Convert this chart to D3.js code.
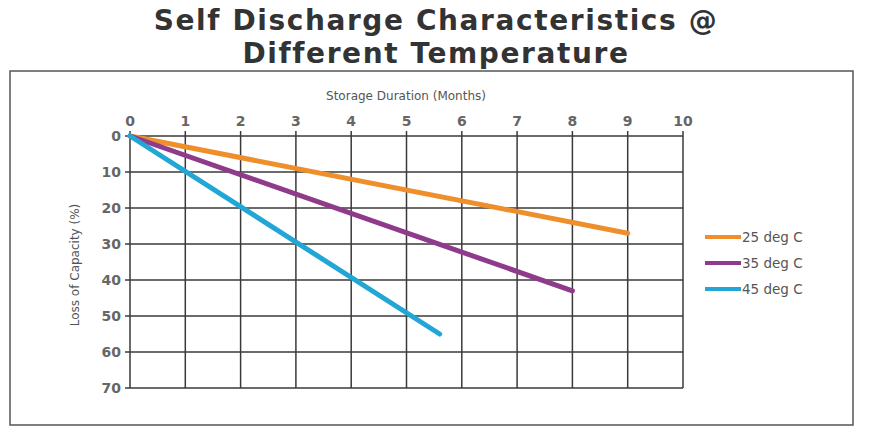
<!DOCTYPE html>
<html>
<head>
<meta charset="utf-8">
<script src="https://cdn.jsdelivr.net/npm/d3@7"></script>
<style>
body { margin:0; background:#fff; }
text { font-family: "DejaVu Sans", sans-serif; }
</style>
</head>
<body>
<script>
// data
var months = [0,1,2,3,4,5,6,7,8,9,10];
var lossTicks = [0,10,20,30,40,50,60,70];
var seriesNames = ['25 deg C','35 deg C','45 deg C'];
var seriesColors = ['#ef8f2c','#8f3b8b','#21a6d6'];
var s25 = [[0,0],[9,27]];
var s35 = [[0,0],[8,43]];
var s45 = [[0,0],[5.6,55]];
var allSeries = [s25, s35, s45];

var svg = d3.select('body').append('svg')
    .attr('width',872)
    .attr('height',434);

// title
svg.append('text').attr('x',436).attr('y',30)
    .attr('text-anchor','middle')
    .attr('font-size',28).attr('font-weight','bold')
    .attr('letter-spacing',1.6)
    .attr('font-family','"DejaVu Sans Condensed", sans-serif')
    .attr('fill','#333')
    .text('Self Discharge Characteristics @');
svg.append('text').attr('x',436).attr('y',63)
    .attr('text-anchor','middle')
    .attr('font-size',28).attr('font-weight','bold')
    .attr('letter-spacing',1.6)
    .attr('font-family','"DejaVu Sans Condensed", sans-serif')
    .attr('fill','#333')
    .text('Different Temperature');

// frame
svg.append('rect').attr('x',10).attr('y',71).attr('width',843).attr('height',354)
    .attr('fill','none').attr('stroke','#555').attr('stroke-width',1.5);

var x = d3.scaleLinear().domain([0,10]).range([130,683]);
var y = d3.scaleLinear().domain([0,70]).range([136,388]);

// grid
svg.selectAll('.vg').data(months).enter().append('line')
    .attr('x1',function(d){ return x(d); })
    .attr('x2',function(d){ return x(d); })
    .attr('y1',y(0)-5).attr('y2',y(70))
    .attr('stroke','#3a3a3a').attr('stroke-width',1.5);

svg.selectAll('.hg').data(lossTicks).enter().append('line')
    .attr('x1',x(0)-5).attr('x2',x(10))
    .attr('y1',function(d){ return y(d); })
    .attr('y2',function(d){ return y(d); })
    .attr('stroke','#3a3a3a').attr('stroke-width',1.5);

// tick labels
svg.selectAll('.xl').data(months).enter().append('text')
    .attr('x',function(d){ return x(d); })
    .attr('y',126)
    .attr('text-anchor','middle')
    .attr('font-size',14).attr('font-weight','bold').attr('fill','#666')
    .text(function(d){ return d; });

svg.selectAll('.yl').data(lossTicks).enter().append('text')
    .attr('x',x(0)-9)
    .attr('y',function(d){ return y(d)+5; })
    .attr('text-anchor','end')
    .attr('font-size',14).attr('font-weight','bold').attr('fill','#666')
    .text(function(d){ return d; });

svg.append('text').attr('x',406).attr('y',100)
    .attr('text-anchor','middle')
    .attr('font-size',12).attr('fill','#555')
    .text('Storage Duration (Months)');

svg.append('text')
    .attr('transform','translate(79,265) rotate(-90)')
    .attr('text-anchor','middle')
    .attr('font-size',12).attr('fill','#555')
    .attr('font-family','"DejaVu Sans Condensed", sans-serif')
    .text('Loss of Capacity (%)');

// lines
var line = d3.line()
    .x(function(d){ return x(d[0]); })
    .y(function(d){ return y(d[1]); });

svg.selectAll('.series').data(allSeries).enter().append('path')
    .attr('d', line)
    .attr('fill','none')
    .attr('stroke', function(d,i){ return seriesColors[i]; })
    .attr('stroke-width',5)
    .attr('stroke-linecap','round');

// legend
var leg = svg.selectAll('.leg').data(seriesNames).enter().append('g')
    .attr('transform', function(d,i){ return 'translate(705,' + (237 + i*26) + ')'; });
leg.append('line').attr('x1',0).attr('x2',36).attr('y1',0).attr('y2',0)
    .attr('stroke', function(d,i){ return seriesColors[i]; })
    .attr('stroke-width',4);
leg.append('text').attr('x',37).attr('y',5)
    .attr('font-size',13.5).attr('fill','#555')
    .text(function(d){ return d; });
</script>
</body>
</html>
